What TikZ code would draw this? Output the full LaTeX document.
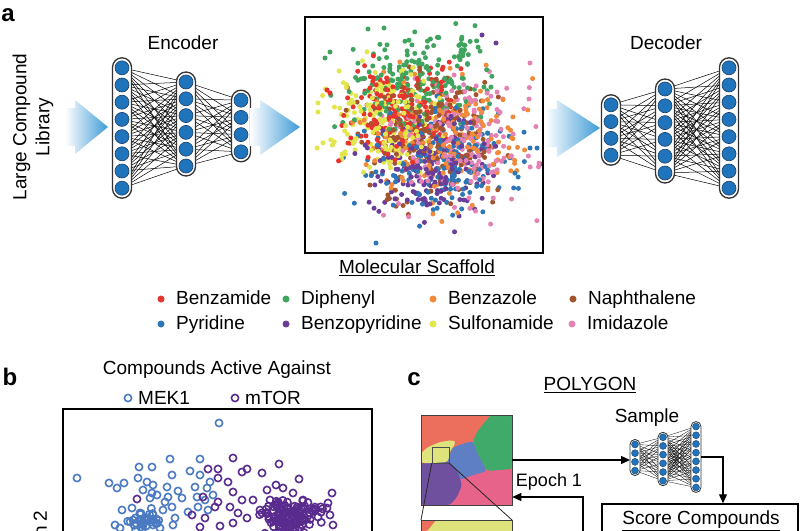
\documentclass[tikz,border=0pt]{standalone}
\usepackage{fontspec}
\setmainfont{Liberation Sans}
\usetikzlibrary{arrows.meta}
\definecolor{nnblue}{HTML}{1F74BC}
\definecolor{nnedge}{HTML}{1B3F66}
\definecolor{capedge}{HTML}{333333}
\definecolor{arrowblue}{HTML}{3E9BD6}
\definecolor{sred}{HTML}{E8342E}
\definecolor{sgreen}{HTML}{3FA45E}
\definecolor{sorange}{HTML}{F08B3C}
\definecolor{sbrown}{HTML}{A4532F}
\definecolor{sblue}{HTML}{2D77B6}
\definecolor{spurple}{HTML}{6A3D9A}
\definecolor{syellow}{HTML}{E2E54C}
\definecolor{spink}{HTML}{E482B4}
\definecolor{mekblue}{HTML}{4A7AC2}
\definecolor{mtorpurple}{HTML}{5A2B8E}
\definecolor{mcoral}{HTML}{EC6E5D}
\definecolor{mgreen}{HTML}{3FAA6A}
\definecolor{myellow}{HTML}{DFE37C}
\definecolor{mblue}{HTML}{5E7FC3}
\definecolor{mpurple}{HTML}{6E509F}
\definecolor{mpink}{HTML}{E7638A}

\newcommand\nnlayer[5]{\foreach \i in {1,...,#4}{\coordinate (#1-\i) at ({#2},{#3+(\i-(#4+1)/2)*#5});}}
\newcommand\nnconnect[4]{\foreach \i in {1,...,#2}{\foreach \j in {1,...,#4}{\draw[conn] (#1-\i) -- (#3-\j);}}}
\newcommand\nncaps[8]{%
  \draw[capsule, rounded corners=#6pt] ({#2-#6},{#3-(#4-1)/2*#5-#7}) rectangle ({#2+#6},{#3+(#4-1)/2*#5+#7});
  \foreach \i in {1,...,#4}{\node[neuron, minimum size=#8pt] (#1n\i) at (#1-\i) {};}}

\begin{document}
\begin{tikzpicture}[x=1pt,y=-1pt,
  font=\fontsize{19}{23}\selectfont,
  panel/.style={font=\fontsize{24}{28}\selectfont\bfseries},
  neuron/.style={circle, fill=nnblue, draw=nnedge, line width=0.6pt, inner sep=0pt},
  capsule/.style={draw=capedge, fill=white, line width=1.3pt},
  conn/.style={line width=0.5pt, black},
  flowarrow/.style={line width=1.3pt, -{Triangle[length=9pt,width=8pt]}},
  legdot/.style={circle, inner sep=0pt, minimum size=7pt},
  legtext/.style={anchor=base west, inner sep=0pt},
  mk/.style={draw=mekblue, line width=1.6pt},
  mt/.style={draw=mtorpurple, line width=1.6pt}]
\path[use as bounding box] (0,0) rectangle (800,530);
\clip (0,0) rectangle (800,530);
\fill[white] (0,0) rectangle (800,530);

% ---------------- panel a ----------------
\node[panel] (la) at (8,15) {a};
\node[rotate=90, align=center] (lib) at (33,127) {Large Compound\\Library};
\shade[left color=white, right color=arrowblue] (65,108) -- (75,108) -- (75,100) -- (108,127) -- (75,154) -- (75,146) -- (65,146) -- cycle;

\node (enc) at (183,43) {Encoder};
\nnlayer{e1}{122}{128}{8}{17.2}
\nnlayer{e2}{186}{124}{6}{16.8}
\nnlayer{e3}{241}{126}{4}{17.2}
\nnconnect{e1}{8}{e2}{6}
\nnconnect{e2}{6}{e3}{4}
\nncaps{e1}{122}{128}{8}{17.2}{9.5}{10}{14}
\nncaps{e2}{186}{124}{6}{16.8}{9.5}{10}{14}
\nncaps{e3}{241}{126}{4}{17.2}{9.5}{10}{14}

\shade[left color=white, right color=arrowblue] (250,108) -- (260,108) -- (260,100) -- (300,127) -- (260,155) -- (260,146) -- (250,146) -- cycle;

% scatter
\pgfmathsetseed{11}
\begin{scope}
\clip (306,18) rectangle (542,252);
\foreach \k in {1,...,190}{
  \foreach \c/\cx/\cy/\sx/\sy in {sbrown/425/135/36/32, sorange/445/140/36/32, sred/398/112/27/24, sgreen/410/82/36/24, sblue/440/160/38/26, spurple/428/165/30/26, syellow/385/120/26/26, spink/458/145/34/32}{
    \pgfmathsetmacro\px{\cx+\sx*(rand+rand+rand)}
    \pgfmathsetmacro\py{\cy+\sy*(rand+rand+rand)}
    \fill[\c] (\px,\py) circle[radius=2.5pt];
  }
}
\foreach \k in {1,...,18}{
  \pgfmathsetmacro\px{462+5*(rand+rand)}
  \pgfmathsetmacro\py{50+9*(rand+rand)}
  \fill[sgreen] (\px,\py) circle[radius=2.5pt];
}
\foreach \c/\x/\y in {sblue/376/243, sblue/530/148, spink/530/63, spink/529/99, spurple/482/35, spurple/496/43, syellow/318/103, syellow/318/112, syellow/317/148, sgreen/325/58, sgreen/330/52, sgreen/368/29, sgreen/384/28, sred/327/90, sred/330/93}{
  \fill[\c] (\x,\y) circle[radius=2.5pt];
}
\end{scope}
\draw[line width=1.5pt] (305,17) rectangle (543,253);
\node (scaf) at (417,268) {\underline{Molecular Scaffold}};

% legend
\foreach \nm/\c/\x/\y/\t in {lg1/sred/161/299/Benzamide, lg2/sgreen/286/299/Diphenyl, lg3/sorange/433/299/Benzazole, lg4/sbrown/573/299/Naphthalene, lg5/sblue/161/324/Pyridine, lg6/spurple/286/324/Benzopyridine, lg7/syellow/433/324/Sulfonamide, lg8/spink/572/324/Imidazole}{
  \node[legdot, fill=\c] (\nm) at (\x,\y) {};
  \node[legtext] (\nm t) at (\x+15,\y+5.5) {\t};
}

\shade[left color=white, right color=arrowblue] (545,109) -- (557,109) -- (557,100) -- (600,128) -- (557,157) -- (557,147) -- (545,147) -- cycle;

\node (dec) at (666,43) {Decoder};
\nnlayer{d1}{611}{130}{4}{16.8}
\nnlayer{d2}{665}{131}{6}{16.8}
\nnlayer{d3}{729}{128}{8}{17.2}
\nnconnect{d1}{4}{d2}{6}
\nnconnect{d2}{6}{d3}{8}
\nncaps{d1}{611}{130}{4}{16.8}{9.5}{10}{14}
\nncaps{d2}{665}{131}{6}{16.8}{9.5}{10}{14}
\nncaps{d3}{729}{128}{8}{17.2}{9.5}{10}{14}

% ---------------- panel b ----------------
\node[panel] (lb) at (10,377) {b};
\node (btitle) at (217,370) {Compounds Active Against};
\draw[mk] (128,398) circle[radius=3.6pt];
\node[anchor=west, inner sep=0pt] (mek) at (138,398) {MEK1};
\draw[mt] (235,398) circle[radius=3.6pt];
\node[anchor=west, inner sep=0pt] (mtor) at (245,398) {mTOR};
\node[rotate=90, anchor=east] (dim2) at (40,507) {Dimension 2};
\begin{scope}
\clip (64,410) rectangle (371,530);
\foreach \x/\y in {219/423, 77/478, 170/459, 200/459, 139/467, 152/467, 138/478, 147/482, 172/475, 190/471, 200/475, 109/483, 117/488, 124/483, 153/485, 157/495, 167/487, 168/497, 178/491, 182/498, 195/487, 197/497, 207/488, 210/482, 213/495, 165/502, 172/507, 122/510, 132/508, 140/513, 147/518, 153/515, 163/510, 115/525, 133/520, 143/525, 153/525, 175/518, 173/525, 188/512, 198/507, 150/498, 152/493, 143/490, 120/528, 160/528, 205/500, 208/510}{
  \draw[mk] (\x,\y) circle[radius=3.6pt];
}
\foreach \k in {1,...,30}{
  \pgfmathsetmacro\px{145+9*(rand+rand+rand)}
  \pgfmathsetmacro\py{518+6*(rand+rand+rand)}
  \draw[mk] (\px,\py) circle[radius=3.6pt];
}
\foreach \x/\y in {233/458, 279/464, 208/469, 218/469, 242/472, 247/469, 262/473, 218/478, 228/482, 299/479, 137/499, 203/497, 233/492, 242/500, 253/500, 267/490, 276/485, 283/488, 293/493, 303/500, 332/493, 328/503, 327/508, 312/510, 318/517, 330/515, 333/525, 192/515, 205/518, 215/507, 218/502, 230/507, 238/513, 247/518, 233/523, 220/526, 200/527, 305/520, 300/528, 260/510, 270/500}{
  \draw[mt] (\x,\y) circle[radius=3.6pt];
}
\foreach \k in {1,...,120}{
  \pgfmathsetmacro\px{287+14*(rand+rand+rand)}
  \pgfmathsetmacro\py{516+9*(rand+rand+rand)}
  \draw[mt] (\px,\py) circle[radius=3.6pt];
}
\end{scope}
\draw[line width=1.5pt] (63,540) -- (63,409) -- (372,409) -- (372,540);

% ---------------- panel c ----------------
\node[panel] (lc) at (414,379) {c};
\node (poly) at (590,385) {\underline{POLYGON}};

% map
\fill[mcoral] (421,415) rectangle (512,505);
\fill[mpink, rounded corners=3pt] (440,505) -- (455,482) -- (470,474) -- (490,470) -- (512,468) -- (512,505) -- cycle;
\fill[mgreen, rounded corners=3pt] (491,415) -- (484,423) -- (477,432) -- (473,441) -- (478,455) -- (487,471) -- (512,469) -- (512,415) -- cycle;
\fill[mblue, rounded corners=3pt] (447,463) -- (452,448) -- (462,444) -- (473,441) -- (478,455) -- (487,471) -- (470,476) -- (460,480) -- cycle;
\fill[mpurple, rounded corners=3pt] (421,463) -- (448,461) -- (457,470) -- (462,485) -- (457,497) -- (450,505) -- (421,505) -- cycle;
\fill[myellow, rounded corners=3pt] (421,453) -- (428,447) -- (440,442) -- (453,440) -- (456,443) -- (450,451) -- (448,462) -- (433,463) -- (421,463) -- cycle;
\node[draw=black!75, line width=0.6pt, minimum width=91pt, minimum height=90pt, inner sep=0pt] (map) at (466.5,460) {};
\node[draw=black!70, line width=0.6pt, minimum width=17pt, minimum height=16pt, inner sep=0pt] (zoombox) at (440.5,455) {};

% zoomed map (bottom)
\fill[myellow] (421,520) rectangle (512,540);
\fill[mcoral] (421,520) -- (436,520) -- (428,530) -- (421,533) -- cycle;
\coordinate (zl) at (421,520);
\coordinate (zr) at (512,520);
\draw[black!75, line width=0.6pt] (421,540) -- (zl) -- (zr) -- (512,540);
\draw[black!85, line width=0.8pt] (zoombox.south west) -- (zl);
\draw[black!85, line width=0.8pt] (zoombox.south east) -- (zr);

% small network
\node (sample) at (647,418) {Sample};
\begin{scope}[conn/.style={line width=0.3pt, black}, capsule/.style={draw=capedge, fill=white, line width=0.8pt}, neuron/.style={circle, fill=nnblue, draw=nnedge, line width=0.4pt, inner sep=0pt}]
\nnlayer{s1}{635}{457.5}{4}{8.7}
\nnlayer{s2}{663}{459}{6}{8.7}
\nnlayer{s3}{696}{457}{8}{8.7}
\nnconnect{s1}{4}{s2}{6}
\nnconnect{s2}{6}{s3}{8}
\nncaps{s1}{635}{457.5}{4}{8.7}{5}{5}{7}
\nncaps{s2}{663}{459}{6}{8.7}{5}{5}{7}
\nncaps{s3}{696}{457}{8}{8.7}{5}{5}{7}
\end{scope}
\coordinate (sin) at (630,460);
\draw[flowarrow] (map.east |- sin) -- (sin);

\node[draw, line width=1.5pt, minimum width=196pt, minimum height=36pt, inner sep=0pt] (score) at (700,522) {};
\node (scoretxt) at (701,521) {\underline{Score Compounds}};
\coordinate (sout) at (701,457);
\coordinate (sturn) at (723,457);
\draw[flowarrow] (sout) -- (sturn) -- (sturn |- score.north);

\node[font=\fontsize{18}{22}\selectfont] (epoch) at (549,482) {Epoch 1};
\coordinate (ebot) at (583,545);
\coordinate (ecorner) at (583,497);
\draw[flowarrow] (ebot) -- (ecorner) -- (ecorner -| map.east);
\end{tikzpicture}
\end{document}
